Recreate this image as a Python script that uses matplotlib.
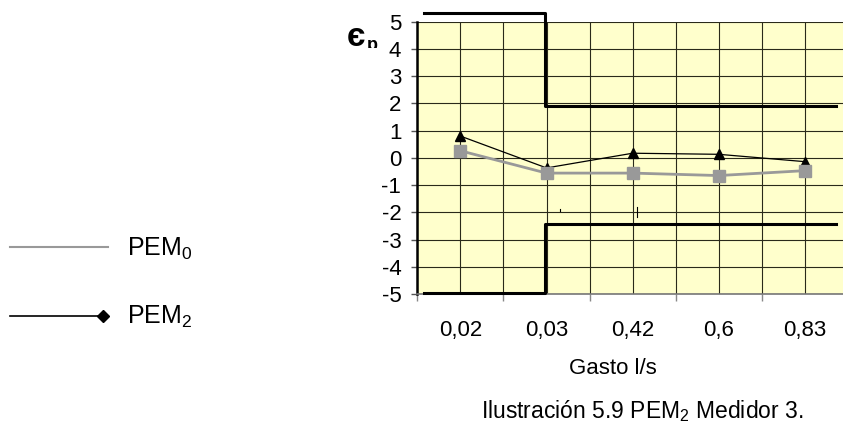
import matplotlib
matplotlib.use("Agg")
import matplotlib.pyplot as plt
from matplotlib.lines import Line2D
from matplotlib.transforms import Bbox

plt.rcParams["font.family"] = ["Liberation Sans", "DejaVu Sans"]
plt.rcParams["mathtext.fontset"] = "custom"
plt.rcParams["mathtext.rm"] = "Liberation Sans"
plt.rcParams["mathtext.it"] = "Liberation Sans:italic"
plt.rcParams["mathtext.bf"] = "Liberation Sans:bold"

# categories (flow, l/s)
categories = ["0,02", "0,03", "0,42", "0,6", "0,83"]
pem0 = [0.26, -0.56, -0.56, -0.65, -0.47]
pem2 = [0.80, -0.37, 0.17, 0.13, -0.14]

# permissible error limits (step lines, category units)
lim_x = [-0.42, 0.98, 0.98, 4.36]
lim_upper = [5.32, 5.32, 1.89, 1.89]
lim_lower = [-4.95, -4.95, -2.43, -2.43]

# stray marks in the original
stray_x = [1.157, 2.05]
stray_y0 = [-1.87, -1.80]
stray_y1 = [-1.95, -2.17]

y_ticks = list(range(-5, 6))

fig = plt.figure(figsize=(8.43, 4.24), dpi=100)
W, H = 843, 424
ax = fig.add_axes([417.3 / W, 1 - 294 / H, (848 - 417.3) / W, (294 - 21.7) / H])
ax.set_facecolor("#FFFFCC")
ax.set_xlim(-0.5, len(categories) - 0.5)
ax.set_ylim(-5, 5)

# grid
for gx in [i * 0.5 - 0.5 for i in range(2 * len(categories) + 1)]:
    ax.axvline(gx, color="#2a2a1a", lw=0.8, zorder=1)
for gy in y_ticks:
    ax.axhline(gy, color="#2a2a1a", lw=0.8, zorder=1)

xs = list(range(len(categories)))
ax.plot(xs, pem2, color="black", lw=0.9, marker="^", markersize=7.5, zorder=4)
ax.plot(xs, pem0, color="#999999", lw=2, marker="s", markersize=9, zorder=5)

ax.plot(lim_x, lim_upper, color="black", lw=2.2, clip_on=False, zorder=6)
ax.plot(lim_x, lim_lower, color="black", lw=2.2, clip_on=False, zorder=6)
for sx, a, b in zip(stray_x, stray_y0, stray_y1):
    ax.plot([sx, sx], [a, b], color="black", lw=0.8, zorder=3)

ax.set_yticks(y_ticks)
ax.set_yticklabels([str(v) for v in y_ticks], fontsize=16)
ax.tick_params(axis="y", length=4.5, width=1, color="#555555", pad=7)

ax.set_xticks(xs)
ax.set_xticklabels(categories, fontsize=16)
ax.set_xticks([i - 0.5 for i in range(len(categories) + 1)], minor=True)
ax.tick_params(axis="x", which="major", length=0, pad=19)
ax.tick_params(axis="x", which="minor", length=5, width=1, color="#888888")

for side in ["top", "right"]:
    ax.spines[side].set_visible(False)
ax.spines["left"].set_linewidth(1.8)
ax.spines["left"].set_color("black")
ax.spines["bottom"].set_linewidth(1.2)
ax.spines["bottom"].set_color("#777777")

# axis label "єp" (subscript cut off at the bottom as in the original)
fig.text(356 / W, 1 - 37 / H, "є", fontsize=24, fontweight="bold",
         ha="center", va="center")
sub = fig.text(372 / W, 1 - 45 / H, "p", fontsize=13, fontweight="bold",
               ha="center", va="center")
sub.set_clip_box(Bbox.from_extents(360, H - 48, 385, H - 36))
sub.set_clip_on(True)

fig.text(612.5 / W, 1 - 368.5 / H, "Gasto l/s", fontsize=16,
         ha="center", va="center")
fig.text(642.5 / W, 1 - 411 / H, r"Ilustración 5.9 PEM$_\mathrm{2}$ Medidor 3.",
         fontsize=16.5, ha="center", va="center")

# legend drawn at figure level
fig.add_artist(Line2D([10 / W, 108 / W], [1 - 246.7 / H] * 2,
                      color="#999999", lw=1.5))
fig.text(127 / W, 1 - 248.5 / H, r"PEM$_\mathrm{0}$", fontsize=18,
         ha="left", va="center")
fig.add_artist(Line2D([10 / W, 103 / W], [1 - 316 / H] * 2,
                      color="black", lw=1.2))
fig.add_artist(Line2D([103 / W], [1 - 316 / H], color="black",
                      marker="D", markersize=6))
fig.text(127 / W, 1 - 317 / H, r"PEM$_\mathrm{2}$", fontsize=18,
         ha="left", va="center")

fig.savefig("out.png", dpi=100)
